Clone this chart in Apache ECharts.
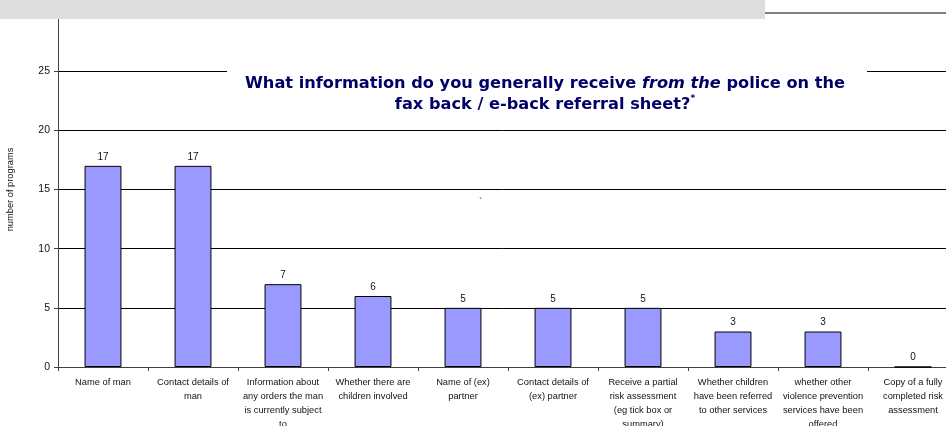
<!DOCTYPE html>
<html><head><meta charset="utf-8">
<script src="https://cdn.jsdelivr.net/npm/echarts@6/dist/echarts.min.js"></script>
<style>html,body{margin:0;padding:0;background:#fff}#c{width:946px;height:426px}</style>
</head><body><div id="c"></div>
<script>
const categories = [
  "Name of man",
  "Contact details of\nman",
  "Information about\nany orders the man\nis currently subject\nto",
  "Whether there are\nchildren involved",
  "Name of (ex)\npartner",
  "Contact details of\n(ex) partner",
  "Receive a partial\nrisk assessment\n(eg tick box or\nsummary)",
  "Whether children\nhave been referred\nto other services",
  "whether other\nviolence prevention\nservices have been\noffered",
  "Copy of a fully\ncompleted risk\nassessment"
];
const values = [17, 17, 7, 6, 5, 5, 5, 3, 3, 0];
const yTicks = [0, 5, 10, 15, 20, 25, 30];

const chart = echarts.init(document.getElementById('c'), null, {renderer: 'canvas'});
const font = 'Liberation Sans, Arial, sans-serif';
const tfont = 'DejaVu Sans, Verdana, sans-serif';
chart.setOption({
  animation: false,
  backgroundColor: '#fff',
  title: {
    text: '{b|What information do you generally receive }{i|from the}{b| police on the}\n{b|fax back / e-back referral sheet?}{s|*}',
    left: 545, top: 73,
    z: 200,
    textAlign: 'center',
    padding: 0,
    textStyle: {
      align: 'center',
      rich: {
        b: {fontFamily: tfont, fontSize: 16.2, fontWeight: 'bold', color: '#000066', lineHeight: 21},
        i: {fontFamily: tfont, fontSize: 16.2, fontWeight: 'bold', fontStyle: 'italic', color: '#000066', lineHeight: 21},
        s: {fontFamily: tfont, fontSize: 9, fontWeight: 'bold', color: '#000066', lineHeight: 21, verticalAlign: 'top', padding: [0, 0, 8, 0]}
      }
    }
  },
  grid: {left: 58, right: -12, top: 12, bottom: 59, containLabel: false, outerBoundsMode: 'none'},
  xAxis: {
    type: 'category',
    data: categories,
    axisLine: {lineStyle: {color: '#404040', width: 1}},
    axisTick: {show: true, length: 4, lineStyle: {color: '#404040'}},
    axisLabel: {interval: 0, fontFamily: font, fontSize: 9.3, color: '#111', lineHeight: 14, margin: 8, align: 'center'},
    splitLine: {show: false}
  },
  yAxis: {
    type: 'value',
    min: yTicks[0], max: yTicks[yTicks.length - 1], interval: 5,
    name: 'number of programs',
    nameLocation: 'middle',
    nameGap: 43,
    nameRotate: 90,
    nameTextStyle: {fontFamily: font, fontSize: 9.3, color: '#111'},
    axisLine: {show: true, lineStyle: {color: '#404040', width: 1}},
    axisTick: {show: true, length: 4, lineStyle: {color: '#404040'}},
    axisLabel: {fontFamily: font, fontSize: 10.5, color: '#111', margin: 8},
    splitLine: {show: true, lineStyle: {color: '#000', width: 1}}
  },
  series: [{
    type: 'bar',
    data: values,
    barWidth: '41%',
    itemStyle: {color: '#9999ff', borderColor: '#000', borderWidth: 1},
    label: {show: true, position: 'top', distance: 4, fontFamily: font, fontSize: 10, color: '#111'}
  }],
  graphic: [
    {type: 'rect', left: 227, top: 62, z: 50, shape: {width: 640, height: 58}, style: {fill: '#ffffff'}},
    {type: 'rect', left: 0, top: 0, z: 100, shape: {width: 765, height: 19}, style: {fill: '#dddddd'}},
    {type: 'rect', left: 765, top: 12, z: 100, shape: {width: 181, height: 2}, style: {fill: '#808080'}},
    {type: 'text', left: 479, top: 198, z: 100, style: {text: '`', fontFamily: font, fontSize: 10, fill: '#333'}}
  ]
});
</script>
</body></html>
